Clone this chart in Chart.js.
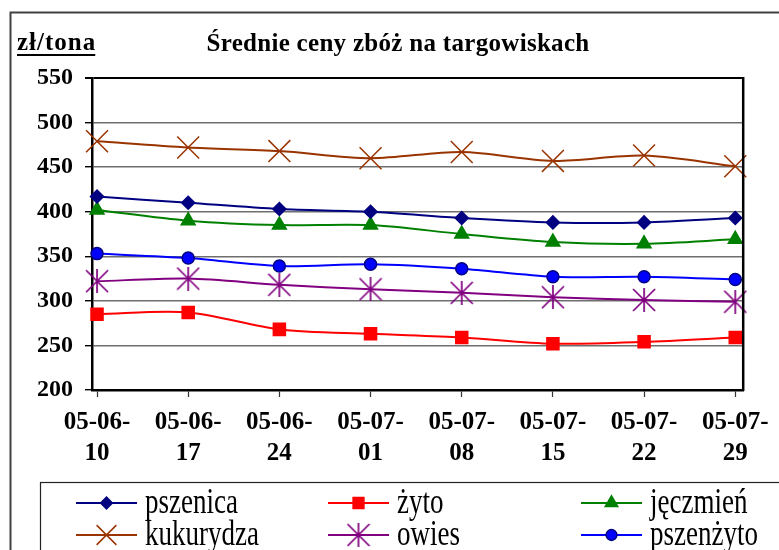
<!DOCTYPE html>
<html>
<head>
<meta charset="utf-8">
<script src="https://cdn.jsdelivr.net/npm/chart.js@4.4.1/dist/chart.umd.min.js"></script>
<style>
  html, body { margin: 0; padding: 0; background: #fff; }
  canvas { display: block; }
</style>
</head>
<body>
<canvas id="chart" width="779" height="550"></canvas>
<script>
const dates = ['05-06-10', '05-06-17', '05-06-24', '05-07-01', '05-07-08', '05-07-15', '05-07-22', '05-07-29'];
const pszenica  = [417, 410, 403, 400, 393, 388, 388, 393];
const zyto      = [285, 287, 268, 263, 259, 252, 254, 259];
const jeczmien  = [402, 390, 385, 385, 375, 366, 364, 369];
const kukurydza = [479, 472, 468, 460, 467, 457, 463, 451];
const owies     = [322, 325, 318, 313, 309, 304, 301, 299];
const pszenzyto = [353, 348, 339, 341, 336, 327, 327, 324];
const yTicks = [200, 250, 300, 350, 400, 450, 500, 550];

const serif = '"Liberation Serif", "Times New Roman", serif';

// excel-style asterisk marker (X plus vertical bar)
function asterisk(color, s) {
  const c = document.createElement('canvas');
  c.width = s; c.height = s;
  const g = c.getContext('2d');
  g.strokeStyle = color;
  g.lineWidth = 1.7;
  g.beginPath();
  g.moveTo(1, 1); g.lineTo(s - 1, s - 1);
  g.moveTo(s - 1, 1); g.lineTo(1, s - 1);
  g.moveTo(s / 2, 0); g.lineTo(s / 2, s);
  g.stroke();
  return c;
}

const pts = arr => arr.map((v, i) => ({ x: i, y: v }));

function series(label, values, color, style, radius, fill, border) {
  return {
    label: label,
    data: pts(values),
    borderColor: color,
    borderWidth: 2,
    pointStyle: style,
    pointRadius: radius,
    pointHoverRadius: radius,
    pointBackgroundColor: fill,
    pointBorderColor: border,
    pointBorderWidth: 1.5,
    tension: 0.3,
    clip: false
  };
}

const datasets = [
  series('pszenica', pszenica, '#000080', 'rectRot', 6.5, '#000080', '#000080'),
  series('żyto', zyto, '#FF0000', 'rect', 8.5, '#FF0000', '#FF0000'),
  series('jęczmień', jeczmien, '#008000', 'triangle', 8, '#008000', '#008000'),
  series('kukurydza', kukurydza, '#993300', 'crossRot', 15.5, '#993300', '#993300'),
  series('owies', owies, '#800080', asterisk('#800080', 24), 12, '#800080', '#800080'),
  series('pszenżyto', pszenzyto, '#0000FF', 'circle', 6, '#0000FF', '#000080')
];

const decor = {
  id: 'decor',
  afterDraw(chart) {
    const ctx = chart.ctx;
    const a = chart.chartArea;
    ctx.save();

    // outer frame
    ctx.strokeStyle = '#404040';
    ctx.lineWidth = 2;
    ctx.strokeRect(10.5, 12.5, 800, 600);

    // right border of plot
    ctx.strokeStyle = '#000';
    ctx.lineWidth = 2.5;
    ctx.beginPath();
    ctx.moveTo(a.right, a.top - 1);
    ctx.lineTo(a.right, a.bottom + 1);
    ctx.stroke();

    // title
    ctx.fillStyle = '#000';
    ctx.font = 'bold 25px ' + serif;
    ctx.letterSpacing = '0.3px';
    ctx.textAlign = 'center';
    ctx.textBaseline = 'alphabetic';
    ctx.fillText('Średnie ceny zbóż na targowiskach', 398, 51);

    // unit label, underlined
    ctx.textAlign = 'left';
    ctx.font = 'bold 25px ' + serif;
    ctx.letterSpacing = '1px';
    ctx.fillText('zł/tona', 17, 50);
    const w = ctx.measureText('zł/tona').width;
    ctx.fillRect(17, 54, w - 1, 2);
    ctx.letterSpacing = '0px';

    // legend box
    ctx.strokeStyle = '#222';
    ctx.lineWidth = 1.2;
    ctx.strokeRect(40.5, 482.5, 800, 200);

    const cols = [76, 328, 581];
    const rows = [503, 535];
    chart.data.datasets.forEach((ds, i) => {
      const x = cols[i % 3];
      const y = rows[Math.floor(i / 3)];
      ctx.strokeStyle = ds.borderColor;
      ctx.lineWidth = 2;
      ctx.beginPath();
      ctx.moveTo(x, y);
      ctx.lineTo(x + 61, y);
      ctx.stroke();
      ctx.fillStyle = ds.pointBackgroundColor;
      ctx.strokeStyle = ds.pointBorderColor;
      ctx.lineWidth = ds.pointBorderWidth;
      Chart.helpers.drawPoint(ctx, {
        pointStyle: ds.pointStyle,
        rotation: 0,
        radius: ds.pointRadius * 0.9,
        borderWidth: ds.pointBorderWidth
      }, x + 30.5, y);

      ctx.fillStyle = '#000';
      ctx.font = '27px ' + serif;
      ctx.textAlign = 'left';
      ctx.textBaseline = 'alphabetic';
      ctx.save();
      ctx.translate(x + 69, y + 10);
      ctx.scale(1, 1.35);
      ctx.fillText(ds.label, 0, 0);
      ctx.restore();
    });

    ctx.restore();
  }
};

new Chart(document.getElementById('chart'), {
  type: 'line',
  data: { datasets: datasets },
  plugins: [decor],
  options: {
    responsive: false,
    animation: false,
    events: [],
    layout: { padding: { top: 78, right: 34, left: 0, bottom: 0 } },
    plugins: {
      legend: { display: false },
      title: { display: false },
      tooltip: { enabled: false }
    },
    scales: {
      x: {
        type: 'linear',
        min: -0.055,
        max: 7.087,
        afterBuildTicks: s => { s.ticks = dates.map((_, i) => ({ value: i })); },
        afterFit: s => { s.height = 160; },
        ticks: {
          autoSkip: false,
          maxRotation: 0,
          padding: 10,
          color: '#000',
          font: { family: serif, size: 25, weight: 'bold', lineHeight: 1.25 },
          callback: v => {
            const d = dates[v];
            return d ? [d.slice(0, 6), d.slice(6)] : '';
          }
        },
        grid: { drawOnChartArea: false, tickLength: 7, tickColor: '#333', tickWidth: 1.2 },
        border: { color: '#000', width: 2.5 }
      },
      y: {
        min: 200,
        max: 550,
        afterBuildTicks: s => { s.ticks = yTicks.map(v => ({ value: v })); },
        afterFit: s => { s.width = 92; },
        ticks: {
          padding: 12,
          color: '#000',
          font: { family: serif, size: 24, weight: 'bold' }
        },
        grid: {
          color: c => (c.tick && c.tick.value === 550) ? '#000' : '#6e6e6e',
          lineWidth: c => (c.tick && c.tick.value === 550) ? 2 : 1.4,
          tickLength: 7,
          tickColor: '#000'
        },
        border: { color: '#000', width: 2.5 }
      }
    }
  }
});
</script>
</body>
</html>
